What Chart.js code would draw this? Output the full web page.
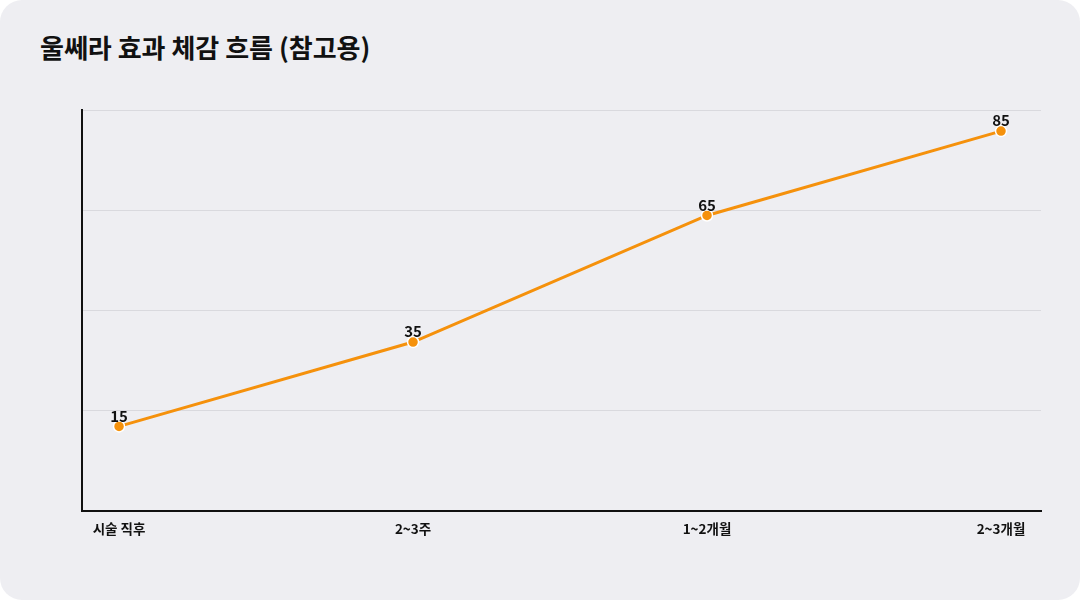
<!DOCTYPE html>
<html>
<head>
<meta charset="utf-8">
<script src="https://cdn.jsdelivr.net/npm/chart.js@4"></script>
<style>
	body { margin: 0; background: #ffffff; }
	#card {
		position: relative;
		width: 1080px;
		height: 600px;
		background: #eeeef2;
		border-radius: 22px;
		overflow: hidden;
		font-family: "Noto Sans CJK KR", "Noto Sans", sans-serif;
	}
	#title {
		position: absolute;
		left: 40px;
		top: 28px;
		font-size: 26px;
		font-weight: 700;
		color: #111111;
	}
	#chart { position: absolute; left: 0; top: 0; }
</style>
</head>
<body>
<div id="card">
	<div id="title">울쎄라 효과 체감 흐름 (참고용)</div>
	<canvas id="chart" width="1080" height="600"></canvas>
</div>
<script>
const labels = ["시술 직후", "2~3주", "1~2개월", "2~3개월"];
const values = [15, 35, 65, 85];
const yMin = -5;
const yMax = 90;

const fontFamily = "'Noto Sans CJK KR', 'Noto Sans', sans-serif";
const orange = "#f5910c";

// draw the value above each point
const valueLabels = {
	id: "valueLabels",
	afterDatasetsDraw(chart) {
		const ctx = chart.ctx;
		const meta = chart.getDatasetMeta(0);
		ctx.save();
		ctx.font = "700 15px " + fontFamily;
		ctx.fillStyle = "#111111";
		ctx.textAlign = "center";
		ctx.textBaseline = "bottom";
		meta.data.forEach((pt, i) => {
			ctx.fillText(String(values[i]), pt.x, pt.y - 3);
		});
		ctx.restore();
	}
};

new Chart(document.getElementById("chart"), {
	type: "line",
	data: {
		datasets: [
			{
				data: values.map((v, i) => ({ x: i, y: v })),
				borderColor: orange,
				borderWidth: 3,
				pointBackgroundColor: orange,
				pointBorderColor: "#ffffff",
				pointBorderWidth: 1.5,
				pointRadius: 5.5,
				tension: 0,
				fill: false
			}
		]
	},
	options: {
		responsive: false,
		animation: false,
		layout: {
			padding: { top: 110, left: 82, right: 39, bottom: 53 }
		},
		plugins: {
			legend: { display: false },
			title: { display: false },
			tooltip: { enabled: false }
		},
		scales: {
			x: {
				type: "linear",
				min: -0.126,
				max: 3.136,
				afterBuildTicks: (scale) => {
					scale.ticks = labels.map((_, i) => ({ value: i }));
				},
				ticks: {
					callback: (v) => labels[v],
					color: "#111111",
					font: { family: fontFamily, size: 13.5, weight: "700" },
					padding: 10,
					maxRotation: 0
				},
				grid: { display: false, drawTicks: false },
				border: { color: "#111111", width: 2 }
			},
			y: {
				min: yMin,
				max: yMax,
				ticks: { display: false, count: 5 },
				grid: { color: "#d9d9de", lineWidth: 1, drawTicks: false },
				border: { color: "#111111", width: 2 }
			}
		}
	},
	plugins: [valueLabels]
});
</script>
</body>
</html>
